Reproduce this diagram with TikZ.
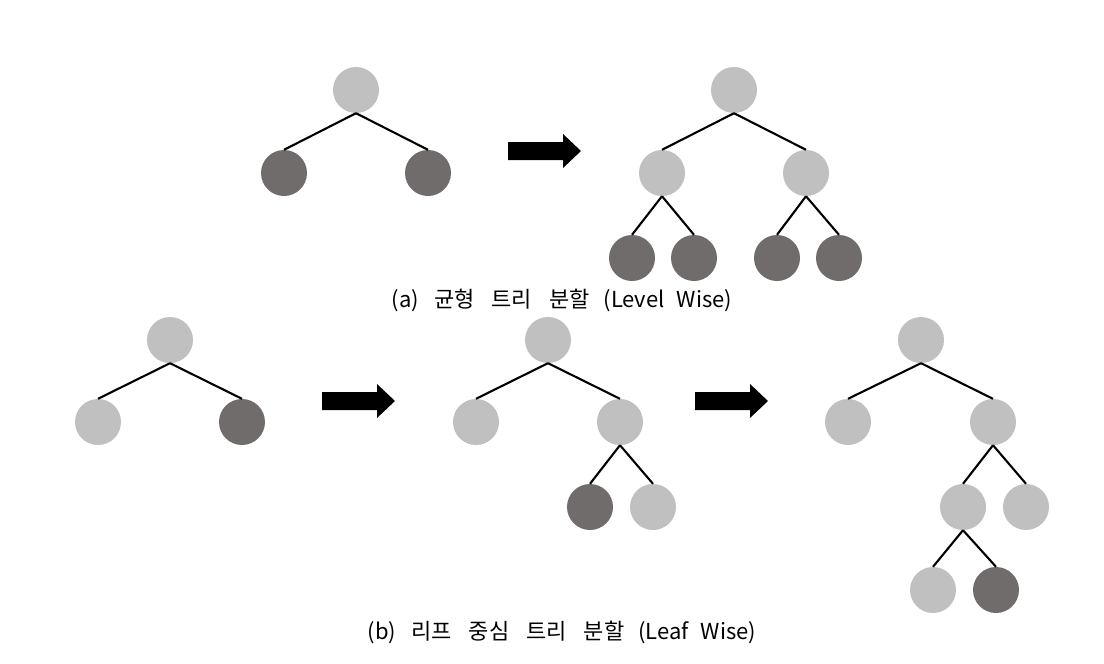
\documentclass[tikz,border=0pt]{standalone}
\usepackage{fontspec}
\setmainfont{Noto Sans CJK KR}
\definecolor{lightnode}{RGB}{192,192,192}
\definecolor{darknode}{RGB}{112,108,108}
\tikzset{
  lt/.style={circle,fill=lightnode,draw=none,minimum size=46pt,inner sep=0pt},
  dk/.style={circle,fill=darknode,draw=none,minimum size=46pt,inner sep=0pt},
  edge/.style={draw=black,line width=2.1pt},
  caption/.style={font=\fontsize{22}{25}\selectfont,inner sep=0pt},
}
\newcommand{\fatarrow}[2]{% left x, center y
  \fill[black] (#1,#2-9) -- (#1+55,#2-9) -- (#1+55,#2-17) -- (#1+73,#2) -- (#1+55,#2+17) -- (#1+55,#2+9) -- (#1,#2+9) -- cycle;
}
\begin{document}
\begin{tikzpicture}[x=1pt,y=-1pt]
\useasboundingbox[fill=white] (0,0) rectangle (1104,664);
% (a) tree 1
\node[lt] (a1r) at (356,90) {};
\node[dk] (a1l) at (284,173) {};
\node[dk] (a1rr) at (428,173) {};
\draw[edge] (a1r.south) -- (a1l.north);
\draw[edge] (a1r.south) -- (a1rr.north);
\fatarrow{508}{151}
% (a) tree 2
\node[lt] (a2r) at (734,90) {};
\node[lt] (a2l) at (662,173) {};
\node[lt] (a2rr) at (806,173) {};
\node[dk] (a2ll) at (632,258) {};
\node[dk] (a2lr) at (694,258) {};
\node[dk] (a2rl) at (777,258) {};
\node[dk] (a2rrr) at (839,258) {};
\draw[edge] (a2r.south) -- (a2l.north);
\draw[edge] (a2r.south) -- (a2rr.north);
\draw[edge] (a2l.south) -- (a2ll.north);
\draw[edge] (a2l.south) -- (a2lr.north);
\draw[edge] (a2rr.south) -- (a2rl.north);
\draw[edge] (a2rr.south) -- (a2rrr.north);
\node[caption] (capa) at (562,300) {(a)\hspace{15pt}균형\hspace{17pt}트리\hspace{17pt}분할\hspace{14pt}(Level\hspace{12pt}Wise)};
% (b) tree 1
\node[lt] (b1r) at (170,340) {};
\node[lt] (b1l) at (98,422) {};
\node[dk] (b1rr) at (242,422) {};
\draw[edge] (b1r.south) -- (b1l.north);
\draw[edge] (b1r.south) -- (b1rr.north);
\fatarrow{322}{401}
% (b) tree 2
\node[lt] (b2r) at (548,340) {};
\node[lt] (b2l) at (476,422) {};
\node[lt] (b2rr) at (620,422) {};
\node[dk] (b2rl) at (590,507) {};
\node[lt] (b2rrr) at (653,507) {};
\draw[edge] (b2r.south) -- (b2l.north);
\draw[edge] (b2r.south) -- (b2rr.north);
\draw[edge] (b2rr.south) -- (b2rl.north);
\draw[edge] (b2rr.south) -- (b2rrr.north);
\fatarrow{695}{401}
% (b) tree 3
\node[lt] (b3r) at (921,340) {};
\node[lt] (b3l) at (848,422) {};
\node[lt] (b3rr) at (993,422) {};
\node[lt] (b3rl) at (963,507) {};
\node[lt] (b3rrr) at (1026,507) {};
\node[lt] (b3rll) at (933,590) {};
\node[dk] (b3rlr) at (996,590) {};
\draw[edge] (b3r.south) -- (b3l.north);
\draw[edge] (b3r.south) -- (b3rr.north);
\draw[edge] (b3rr.south) -- (b3rl.north);
\draw[edge] (b3rr.south) -- (b3rrr.north);
\draw[edge] (b3rl.south) -- (b3rll.north);
\draw[edge] (b3rl.south) -- (b3rlr.north);
\node[caption] (capb) at (562,632) {(b)\hspace{15pt}리프\hspace{17pt}중심\hspace{17pt}트리\hspace{17pt}분할\hspace{14pt}(Leaf\hspace{12pt}Wise)};
\end{tikzpicture}
\end{document}
